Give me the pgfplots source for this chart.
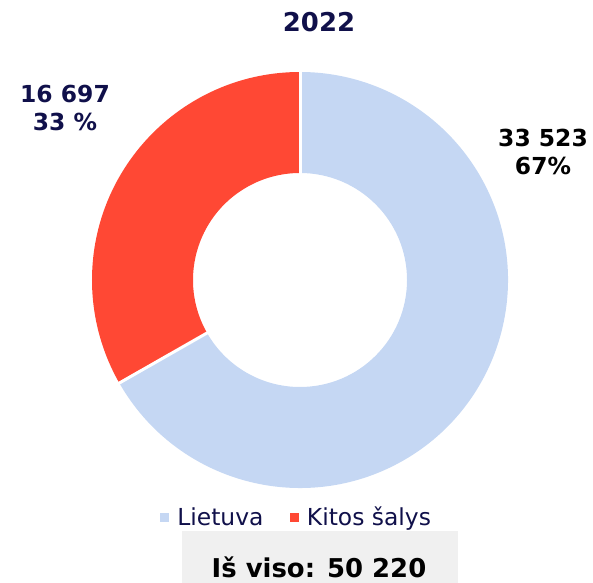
\documentclass[border=0pt]{standalone}
\usepackage{pgfplots}
\pgfplotsset{compat=1.18}
\usepackage{pgfplotstable}
\usepackage{fontspec}
\setmainfont{DejaVu Sans}

\definecolor{lt}{HTML}{C5D7F3}
\definecolor{kt}{HTML}{FF4834}
\definecolor{navy}{HTML}{10104A}
\definecolor{boxgray}{HTML}{F0F0F0}

% 2022 values
\pgfplotstableread{
salis reiksme
Lietuva 33523
Kitos 16697
}\duomenys
\pgfplotstablegetelem{0}{reiksme}\of\duomenys \let\vLT\pgfplotsretval
\pgfplotstablegetelem{1}{reiksme}\of\duomenys \let\vKT\pgfplotsretval
% split angle: red slice runs counter-clockwise from 12 o'clock
\edef\aSplit{\fpeval{90+360*\vKT/(\vKT+\vLT)}}

\begin{document}
\begin{tikzpicture}
\begin{axis}[
    x=1bp, y=1bp,
    xmin=0, xmax=593, ymin=0, ymax=583,
    hide axis, clip=false,
    legend columns=2,
    legend style={at={(0.5,0.1132)}, anchor=center, draw=none, fill=none,
        font=\fontsize{23.5}{27}\selectfont, text=navy,
        /tikz/every odd column/.append style={column sep=7bp},
        /tikz/every even column/.append style={column sep=24bp}},
]
% keep the page at the full 593 x 583 frame
\path (axis cs:0,0) rectangle (axis cs:593,583);

% donut: outer radius 208, inner 107, centre (300,303)
\fill[kt] (axis cs:300,511) arc[start angle=90, end angle=\aSplit, radius=208bp]
    -- (axis cs:{300+107*cos(\aSplit)},{303+107*sin(\aSplit)})
    arc[start angle=\aSplit, end angle=90, radius=107bp] -- cycle;
\fill[lt] (axis cs:{300+208*cos(\aSplit)},{303+208*sin(\aSplit)})
    arc[start angle=\aSplit, end angle=450, radius=208bp]
    -- (axis cs:300,410)
    arc[start angle=450, end angle=\aSplit, radius=107bp] -- cycle;
\draw[white, line width=3bp] (axis cs:300,405) -- (axis cs:300,513);
\draw[white, line width=3bp] (axis cs:{300+103*cos(\aSplit)},{303+103*sin(\aSplit)})
    -- (axis cs:{300+212*cos(\aSplit)},{303+212*sin(\aSplit)});

\addlegendimage{legend image code/.code={\fill[lt] (0bp,-4bp) rectangle (8bp,4bp);}}
\addlegendentry{Lietuva}
\addlegendimage{legend image code/.code={\fill[kt] (0bp,-4bp) rectangle (8bp,4bp);}}
\addlegendentry{Kitos šalys}

\node[font=\fontsize{26}{30}\selectfont\bfseries, text=navy] at (axis cs:319,561) {2022};
\node[font=\fontsize{23.5}{29}\selectfont\bfseries, text=navy, align=center] at (axis cs:65,475) {16 697\\33 \%};
\node[font=\fontsize{23.5}{29}\selectfont\bfseries, text=black, align=center] at (axis cs:543,431) {33 523\\67\%};

\fill[boxgray] (axis cs:182,0) rectangle (axis cs:458,52);
\node[font=\fontsize{26}{30}\selectfont\bfseries, anchor=base, inner sep=0pt] at (axis cs:319,5) {Iš viso: 50 220};
\end{axis}
\end{tikzpicture}
\end{document}
